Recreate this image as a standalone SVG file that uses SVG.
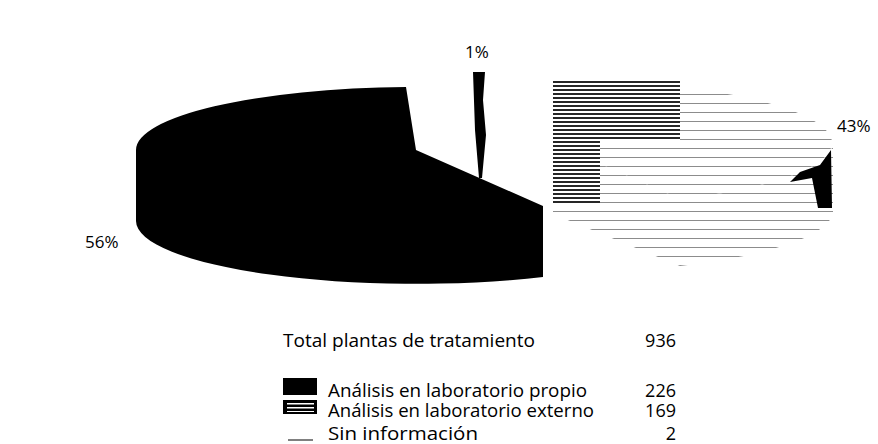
<svg xmlns="http://www.w3.org/2000/svg" width="878" height="444" viewBox="0 0 878 444">
<defs>
<style>
.lbl{font-family:"Open Sans","Liberation Sans",sans-serif;font-size:17px;fill:#000}
.leg{font-family:"Open Sans","Liberation Sans",sans-serif;font-size:18px;fill:#000}
.num{font-family:"Open Sans","Liberation Sans",sans-serif;font-size:18px;fill:#000;text-anchor:end}
</style>
<pattern id="hatchLight" width="9" height="9" patternUnits="userSpaceOnUse">
<rect width="9" height="9" fill="#fff"/>
<rect y="4" width="9" height="1" fill="#000" fill-opacity="0.45"/>
</pattern>
<pattern id="hatchDense" width="8" height="4" patternUnits="userSpaceOnUse">
<rect width="8" height="4" fill="#fff"/>
<rect y="1" width="8" height="2" fill="#000" fill-opacity="0.85"/>
</pattern>
</defs>
<rect width="878" height="444" fill="#fff"/>

<g id="slice-propio">
<path d="M406,87 L416,150 L543,206 L543,277 A280,63 0 0 1 136,221 L136,150 A280,63 0 0 1 406,87 Z" fill="#000"/>
</g>

<g id="slice-sin-info">
<path d="M473,72 L485,72 L483,100 L486,135 L482,178 L479,178 L475,130 Z" fill="#000"/>
</g>

<g id="slice-externo">
<path d="M553,143 L561,80 A280,63 0 0 1 680,199 Z" fill="url(#hatchLight)"/>
<path d="M553,143 L680,199 L680,266 L553,214 Z" fill="url(#hatchLight)"/>
<path d="M833,143 A280,63 0 0 1 680,199 L680,266 A280,63 0 0 0 833,214 Z" fill="url(#hatchLight)"/>
<path d="M553,80 L680,80 L680,140 L553,140 Z" fill="url(#hatchDense)"/>
<path d="M553,140 L600,140 L600,205 L553,205 Z" fill="url(#hatchDense)"/>
<path d="M831,150 L832,208 L818,208 L812,178 L790,182 L800,172 L820,165 Z" fill="#000"/>
</g>

<g id="labels">
<text class="lbl" x="465" y="58">1%</text>
<text class="lbl" x="837" y="132">43%</text>
<text class="lbl" x="85" y="248">56%</text>
</g>

<g id="legend">
<text class="leg" x="283" y="347" textLength="252" lengthAdjust="spacingAndGlyphs">Total plantas de tratamiento</text>
<text class="num" x="676" y="347">936</text>
<rect x="283" y="378" width="34" height="17" fill="#000"/>
<text class="leg" x="328" y="397" textLength="259" lengthAdjust="spacingAndGlyphs">Análisis en laboratorio propio</text>
<text class="num" x="676" y="397">226</text>
<rect x="283" y="400" width="34" height="14" fill="#000"/>
<rect x="287" y="403" width="27" height="1.5" fill="#fff"/>
<rect x="287" y="407" width="27" height="1.5" fill="#fff"/>
<rect x="287" y="411" width="27" height="1" fill="#fff"/>
<text class="leg" x="328" y="417" textLength="266" lengthAdjust="spacingAndGlyphs">Análisis en laboratorio externo</text>
<text class="num" x="676" y="417">169</text>
<line x1="288" y1="440" x2="313" y2="440" stroke="#000" stroke-width="1"/>
<text class="leg" x="328" y="440" textLength="150" lengthAdjust="spacingAndGlyphs">Sin información</text>
<text class="num" x="676" y="440">2</text>
</g>
</svg>
